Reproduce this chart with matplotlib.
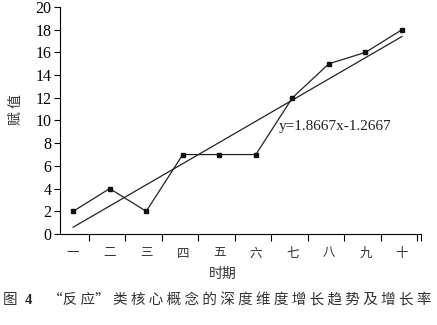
import matplotlib
matplotlib.use("Agg")
import matplotlib.pyplot as plt
import numpy as np

categories = ["一", "二", "三", "四", "五", "六", "七", "八", "九", "十"]
values = [2, 4, 2, 7, 7, 7, 12, 15, 16, 18]
slope, intercept = 1.8667, -1.2667
y_ticks = list(range(0, 21, 2))

cjk = ["Noto Sans CJK SC", "DejaVu Sans"]
serif = ["Liberation Serif", "DejaVu Serif"]

fig = plt.figure(figsize=(4.37, 3.25), dpi=100)
ax = fig.add_axes([60/437, 1-234/325, (421-60)/437, (234-7)/325])

x = np.arange(1, len(values) + 1)
ax.plot(x, values, color="#222222", lw=0.9, marker="s", ms=3, mfc="#111111", mec="#111111")
trend = slope * x + intercept
ax.plot(x, trend, color="#222222", lw=0.9)
ax.text(6.63, 9.45, f"y={slope}x{intercept}", family=serif, fontsize=11, va="center", ha="left", color="#222222")

ax.set_xlim(0.64, 10.52)
ax.set_ylim(0, 20)
ax.set_yticks(y_ticks)
ax.set_yticklabels([str(t) for t in y_ticks], family=serif, fontsize=11.5)
ax.set_xticks(np.arange(1.42, 10.5, 1).tolist() + [10.52])
ax.set_xticklabels([])
ax.set_xticks(x, minor=True)
ax.set_xticklabels(categories, minor=True, family=cjk, fontsize=9, color="#333333")
ax.tick_params(axis="x", which="minor", length=0, pad=9)
ax.tick_params(axis="x", which="major", length=5, direction="out", width=0.8)
ax.tick_params(axis="y", length=4, direction="out", width=0.8, pad=2)
for s in ["top", "right"]:
    ax.spines[s].set_visible(False)
for s in ["left", "bottom"]:
    ax.spines[s].set_linewidth(0.8)

fig.text(16/437, 1-110/325, "赋 值", family=cjk, fontsize=10, rotation=90, ha="center", va="center", color="#333333")
fig.text(223/437, 1-274/325, "时期", family=cjk, fontsize=10, ha="center", va="center", color="#333333")
cap = "“反 应” " + " ".join(list("类核心概念的深度维度增长趋势及增长率"))
fig.text(3/437, 1-300/325, "图", family=cjk, fontsize=10.5, ha="left", va="center", color="#333333")
fig.text(25/437, 1-300/325, "4", family=serif, fontsize=10.5, weight="bold", ha="left", va="center", color="#222222")
fig.text(431/437, 1-300/325, cap, family=cjk, fontsize=10.5, ha="right", va="center", color="#333333")

fig.savefig("out.png", dpi=100)
